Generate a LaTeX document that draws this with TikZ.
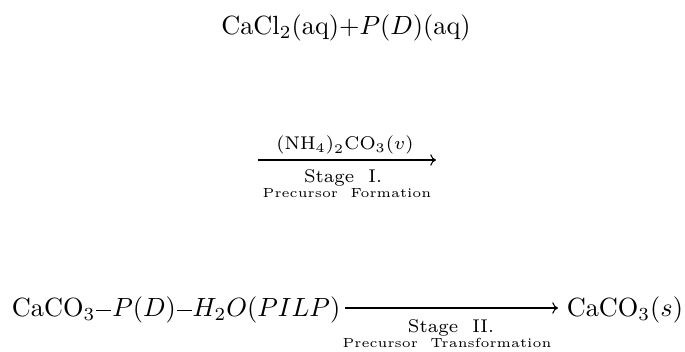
\documentclass[tikz,border=0pt]{standalone}
\usetikzlibrary{arrows.meta}
\newcommand{\chembond}{\hspace{0.4pt}\rule[2.4pt]{5.6pt}{0.42pt}\hspace{0.4pt}}
\tikzset{
  chem/.style={inner sep=0pt, outer sep=0pt, font=\fontsize{10}{12}\selectfont},
  lab/.style={inner sep=0pt, outer sep=0pt, font=\fontsize{7}{8}\selectfont},
  sublab/.style={inner sep=0pt, outer sep=0pt, font=\fontsize{5}{6}\selectfont},
  rxn/.style={-{To[length=2.2pt,width=4.4pt]}, line width=0.4pt}
}
\begin{document}
\begin{tikzpicture}[x=0.38pt,y=-0.38pt]
\useasboundingbox (0,0) rectangle (685,352);
% top reactants
\node[chem, anchor=base] (top) at (346,35) {CaCl$_2$(aq)+$P(D)$(aq)};
% stage I arrow
\coordinate (a1s) at (258,160);
\coordinate (a1e) at (436,160);
\draw[rxn] (a1s) -- (a1e);
\node[lab, anchor=base] (l1) at (345,150) {(NH$_4$)\raisebox{-0.5pt}{$_2$}CO$_3$($v$)};
\node[lab, anchor=base] (s1) at (343,183) {Stage~~I.};
\node[sublab, anchor=base] (p1) at (347,198) {Precursor~~Formation};
% bottom
\node[chem, anchor=base west] (left) at (12,317) {CaCO$_3$\chembond$P(D)$\chembond$H_2O(PILP)$};
\node[chem, anchor=base east] (right) at (683,317) {CaCO$_3$($s$)};
\coordinate (a2s) at (345,308);
\coordinate (a2e) at (558,308);
\draw[rxn] (a2s) -- (a2e);
\node[lab, anchor=base] (s2) at (451,332) {Stage~~II.};
\node[sublab, anchor=base] (p2) at (447,347) {Precursor~~Transformation};
\end{tikzpicture}
\end{document}
